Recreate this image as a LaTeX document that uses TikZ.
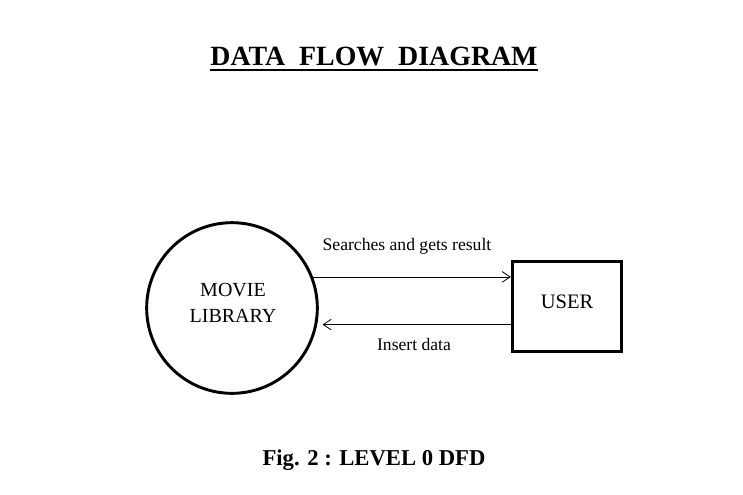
\documentclass[tikz,border=0pt]{standalone}
\usepackage{fontspec}
\setmainfont{Liberation Serif}
\usetikzlibrary{calc,arrows.meta}

\begin{document}
\begin{tikzpicture}[x=0.75pt,y=-0.75pt,>={Straight Barb[length=6pt,width=8pt]}]
		\tikzstyle{process}=[circle,draw=black,line width=2.2pt,minimum size=128pt,inner sep=0pt]
		\tikzstyle{proctext}=[align=center,font=\fontsize{15}{19}\selectfont]
		\tikzstyle{entity}=[rectangle,draw=black,line width=2.2pt,minimum width=82pt,minimum height=68pt,text depth=7.5pt,font=\fontsize{15.4}{18}\selectfont]
		\tikzstyle{flow}=[font=\fontsize{13.2}{15}\selectfont]
		\tikzstyle{flowline}=[->,line width=0.6pt]

		\useasboundingbox (0,0) rectangle (743,494);

		% Title and caption
		\node[font=\bfseries\fontsize{20.9}{24}\selectfont,inner sep=0pt] (title) at (374,56) {DATA\ \ FLOW\ \ DIAGRAM};
		\draw[line width=1.8pt] ($(title.south west)+(0,4)$) -- ($(title.south east)+(0,4)$);
		\node[font=\bfseries\fontsize{17}{20}\selectfont] (caption) at (374,460) {Fig. 2 : LEVEL 0 DFD};

		% Draw process and entity
		\node[process] (library) at (232,308) {};
		\node[proctext] (libname) at (233,303) {MOVIE\\LIBRARY};
		\node[entity] (user) at (567,306.5) {USER};

		% Draw flows
		\draw[flowline] (library.21) -- (library.21 -| user.west);
		\draw[flowline, shorten >=4pt] (user.west |- library.-11) -- (library.-11);

		\node[flow] (search) at (407,246) {Searches and gets result};
		\node[flow] (insert) at (414,344) {Insert data};

		\end{tikzpicture}
\end{document}
